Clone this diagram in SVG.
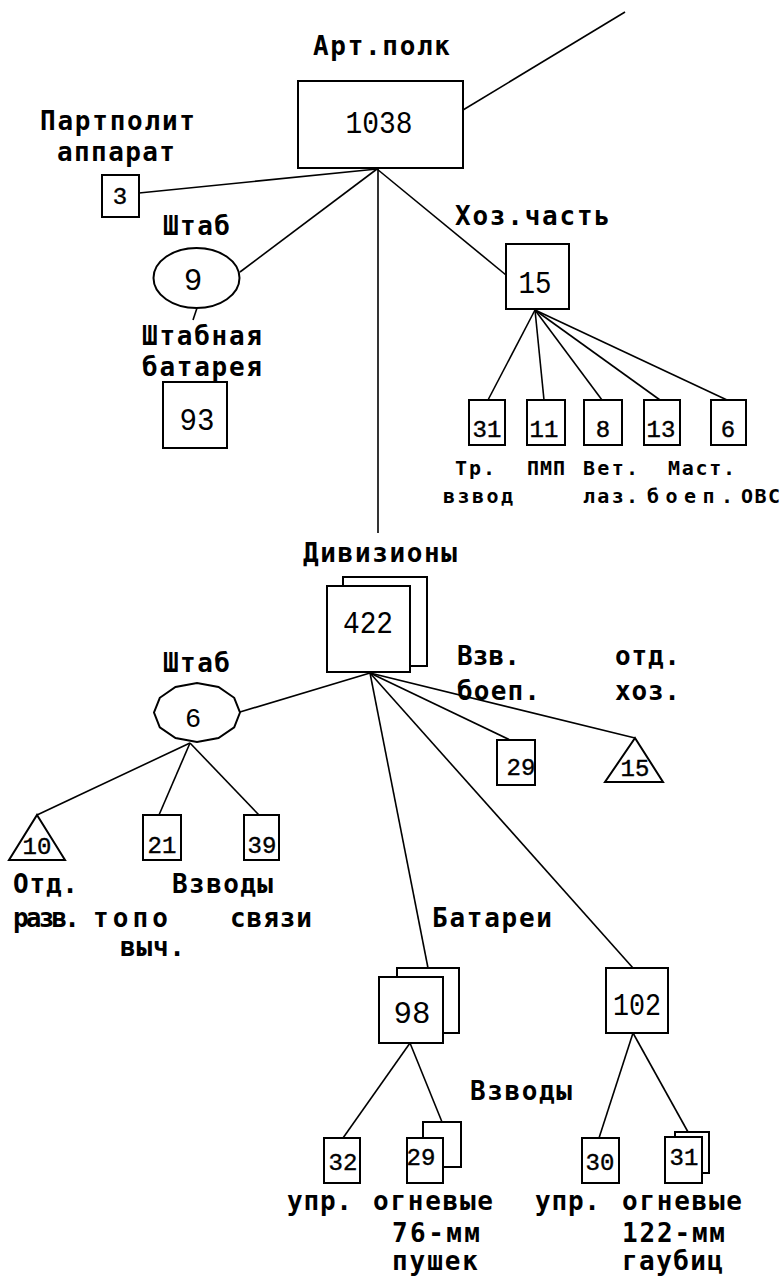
<svg xmlns="http://www.w3.org/2000/svg" width="782" height="1276" viewBox="0 0 782 1276">
<style>
.bx{fill:#fff;stroke:#000;stroke-width:2}
.ln{stroke:#000;stroke-width:1.6;fill:none}
.lb{font-family:"DejaVu Sans Mono","Liberation Mono",monospace;font-weight:bold;font-size:26px;fill:#000}
.sl{font-family:"DejaVu Sans Mono","Liberation Mono",monospace;font-weight:bold;font-size:20px;fill:#000}
.n{font-family:"Liberation Mono","DejaVu Sans Mono",monospace;font-size:31px;fill:#000;text-anchor:middle}
.s{font-family:"Liberation Mono","DejaVu Sans Mono",monospace;font-size:24px;fill:#000;stroke:#000;stroke-width:0.4;text-anchor:middle}
</style>
<rect width="782" height="1276" fill="#fff"/>
<g id="connectors">
<line class="ln" x1="463" y1="110" x2="625" y2="12"/>
<line class="ln" x1="139" y1="193" x2="377" y2="169"/>
<line class="ln" x1="377" y1="169" x2="240" y2="272"/>
<line class="ln" x1="378" y1="169" x2="378" y2="533"/>
<line class="ln" x1="377" y1="169" x2="506" y2="275"/>
<line class="ln" x1="197" y1="308" x2="193" y2="320"/>
<line class="ln" x1="535" y1="310" x2="488" y2="400"/>
<line class="ln" x1="535" y1="310" x2="544" y2="400"/>
<line class="ln" x1="535" y1="310" x2="602" y2="400"/>
<line class="ln" x1="535" y1="310" x2="660" y2="400"/>
<line class="ln" x1="535" y1="310" x2="727" y2="400"/>
<line class="ln" x1="370" y1="673" x2="240" y2="712"/>
<line class="ln" x1="370" y1="673" x2="428" y2="968"/>
<line class="ln" x1="370" y1="673" x2="633" y2="968"/>
<line class="ln" x1="370" y1="673" x2="510" y2="740"/>
<line class="ln" x1="370" y1="673" x2="635" y2="738"/>
<line class="ln" x1="190" y1="743" x2="37" y2="815"/>
<line class="ln" x1="190" y1="743" x2="159" y2="815"/>
<line class="ln" x1="190" y1="743" x2="259" y2="815"/>
<line class="ln" x1="410" y1="1043" x2="343" y2="1138"/>
<line class="ln" x1="410" y1="1043" x2="442" y2="1122"/>
<line class="ln" x1="633" y1="1033" x2="599" y2="1138"/>
<line class="ln" x1="633" y1="1033" x2="688" y2="1132"/>
</g>
<g id="n-polk">
<text class="lb" x="313" y="55" textLength="137" lengthAdjust="spacing">Арт.полк</text>
<rect class="bx" x="298" y="81" width="165" height="87"/>
<text class="n" x="379" y="133" textLength="67" lengthAdjust="spacingAndGlyphs">1038</text>
</g>
<g id="n-partpolit">
<text class="lb" x="40" y="130" textLength="155" lengthAdjust="spacing">Партполит</text>
<text class="lb" x="57" y="161" textLength="118" lengthAdjust="spacing">аппарат</text>
<rect class="bx" x="102" y="175" width="37" height="42"/>
<text class="s" x="120" y="204">3</text>
</g>
<g id="n-shtab1">
<text class="lb" x="163" y="235" textLength="67" lengthAdjust="spacing">Штаб</text>
<ellipse class="bx" cx="196.5" cy="278" rx="43" ry="30" stroke-width="1.6"/>
<text class="n" x="193" y="290">9</text>
</g>
<g id="n-shtabbat">
<text class="lb" x="142" y="345" textLength="120" lengthAdjust="spacing">Штабная</text>
<text class="lb" x="142" y="376" textLength="120" lengthAdjust="spacing">батарея</text>
<rect class="bx" x="163" y="382" width="64" height="66"/>
<text class="n" x="197" y="430" textLength="35" lengthAdjust="spacingAndGlyphs">93</text>
</g>
<g id="n-hoz">
<text class="lb" x="455" y="225" textLength="155" lengthAdjust="spacing">Хоз.часть</text>
<rect class="bx" x="506" y="244" width="63" height="65"/>
<text class="n" x="535" y="293" textLength="33" lengthAdjust="spacingAndGlyphs">15</text>
</g>
<g id="n-trvzvod">
<rect class="bx" x="469" y="400" width="36" height="45"/>
<text class="s" x="487" y="437">31</text>
<text class="sl" x="455" y="475" textLength="40" lengthAdjust="spacing">Тр.</text>
<text class="sl" x="443" y="503" textLength="70" lengthAdjust="spacing">взвод</text>
</g>
<g id="n-pmp">
<rect class="bx" x="527" y="400" width="38" height="45"/>
<text class="s" x="544" y="437">11</text>
<text class="sl" x="527" y="475" textLength="38" lengthAdjust="spacing">ПМП</text>
</g>
<g id="n-vetlaz">
<rect class="bx" x="584" y="400" width="38" height="45"/>
<text class="s" x="603" y="437">8</text>
<text class="sl" x="583" y="475" textLength="55" lengthAdjust="spacing">Вет.</text>
<text class="sl" x="583" y="503" textLength="55" lengthAdjust="spacing">лаз.</text>
</g>
<g id="n-mast">
<rect class="bx" x="644" y="400" width="36" height="45"/>
<text class="s" x="661" y="437">13</text>
<text class="sl" x="668" y="475" textLength="67" lengthAdjust="spacing">Маст.</text>
<text class="sl" x="647" y="503" textLength="86" lengthAdjust="spacing">боеп.</text>
</g>
<g id="n-ovs">
<rect class="bx" x="711" y="400" width="35" height="45"/>
<text class="s" x="728" y="437">6</text>
<text class="sl" x="741" y="503" textLength="39" lengthAdjust="spacing">ОВС</text>
</g>
<g id="n-div">
<text class="lb" x="303" y="562" textLength="154" lengthAdjust="spacing">Дивизионы</text>
<rect class="bx" x="343" y="577" width="84" height="89"/>
<rect class="bx" x="327" y="586" width="83" height="86"/>
<text class="n" x="368" y="633" textLength="50" lengthAdjust="spacingAndGlyphs">422</text>
</g>
<g id="n-vzvboep">
<text class="lb" x="457" y="665" textLength="63" lengthAdjust="spacing">Взв.</text>
<text class="lb" x="457" y="700" textLength="83" lengthAdjust="spacing">боеп.</text>
<rect class="bx" x="497" y="740" width="38" height="45"/>
<text class="s" x="521" y="775">29</text>
</g>
<g id="n-otdhoz">
<text class="lb" x="615" y="665" textLength="65" lengthAdjust="spacing">отд.</text>
<text class="lb" x="615" y="700" textLength="65" lengthAdjust="spacing">хоз.</text>
<polygon class="bx" stroke-width="1.6" points="635,738 663,782 605,782"/>
<text class="s" x="635" y="776">15</text>
</g>
<g id="n-shtab2">
<text class="lb" x="163" y="672" textLength="67" lengthAdjust="spacing">Штаб</text>
<polygon class="bx" stroke-width="1.6" points="240,712.5 234.2,727.3 218.5,738 197,742 175.5,738 159.8,727.3 154,712.5 159.8,697.8 175.5,687 197,683 218.5,687 234.2,697.8"/>
<text class="n" x="193" y="727" style="font-size:27px">6</text>
</g>
<g id="n-otdrazv">
<polygon class="bx" stroke-width="1.6" points="37,815 65,860 9,860"/>
<text class="s" x="37" y="854">10</text>
<text class="lb" x="13" y="893" textLength="65" lengthAdjust="spacing">Отд.</text>
<text class="lb" x="13" y="927" textLength="67" lengthAdjust="spacing">разв.</text>
</g>
<g id="n-topo">
<rect class="bx" x="143" y="815" width="38" height="45"/>
<text class="s" x="162" y="853">21</text>
<text class="lb" x="93" y="927" textLength="75" lengthAdjust="spacing">топо</text>
<text class="lb" x="120" y="956" textLength="65" lengthAdjust="spacing">выч.</text>
</g>
<g id="n-svyaz">
<rect class="bx" x="244" y="815" width="35" height="45"/>
<text class="s" x="262" y="853">39</text>
<text class="lb" x="230" y="927" textLength="82" lengthAdjust="spacing">связи</text>
</g>
<text class="lb" x="172" y="893" textLength="101" lengthAdjust="spacing">Взводы</text>
<g id="n-bat76">
<text class="lb" x="432" y="927" textLength="120" lengthAdjust="spacing">Батареи</text>
<rect class="bx" x="397" y="968" width="62" height="65"/>
<rect class="bx" x="379" y="977" width="64" height="66"/>
<text class="n" x="412" y="1023" textLength="37" lengthAdjust="spacingAndGlyphs">98</text>
</g>
<g id="n-bat122">
<rect class="bx" x="606" y="968" width="62" height="65"/>
<text class="n" x="637" y="1015" textLength="48" lengthAdjust="spacingAndGlyphs">102</text>
</g>
<text class="lb" x="470" y="1100" textLength="102" lengthAdjust="spacing">Взводы</text>
<g id="n-upr76">
<rect class="bx" x="324" y="1138" width="36" height="45"/>
<text class="s" x="343" y="1170">32</text>
<text class="lb" x="287" y="1210" textLength="65" lengthAdjust="spacing">упр.</text>
</g>
<g id="n-og76">
<rect class="bx" x="423" y="1122" width="38" height="45"/>
<rect class="bx" x="407" y="1138" width="36" height="45"/>
<text class="s" x="421" y="1165">29</text>
<text class="lb" x="373" y="1210" textLength="120" lengthAdjust="spacing">огневые</text>
<text class="lb" x="392" y="1242" textLength="88" lengthAdjust="spacing">76-мм</text>
<text class="lb" x="392" y="1270" textLength="86" lengthAdjust="spacing">пушек</text>
</g>
<g id="n-upr122">
<rect class="bx" x="582" y="1138" width="37" height="45"/>
<text class="s" x="600" y="1170">30</text>
<text class="lb" x="535" y="1210" textLength="65" lengthAdjust="spacing">упр.</text>
</g>
<g id="n-og122">
<rect class="bx" x="675" y="1132" width="34" height="41"/>
<rect class="bx" x="665" y="1137" width="37" height="46"/>
<text class="s" x="684" y="1165">31</text>
<text class="lb" x="622" y="1210" textLength="120" lengthAdjust="spacing">огневые</text>
<text class="lb" x="622" y="1242" textLength="103" lengthAdjust="spacing">122-мм</text>
<text class="lb" x="622" y="1270" textLength="101" lengthAdjust="spacing">гаубиц</text>
</g>
</svg>
